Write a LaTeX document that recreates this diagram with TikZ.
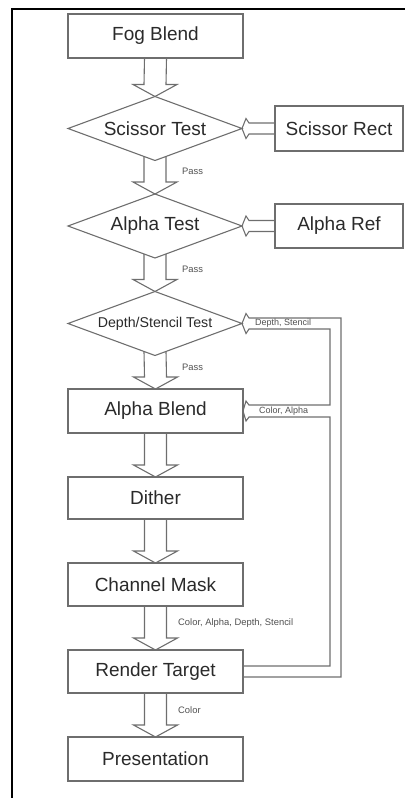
\documentclass[tikz,border=0pt]{standalone}
\usepackage{fontspec}
\setmainfont{Liberation Sans}
\usetikzlibrary{shapes.geometric,calc}
\definecolor{ln}{HTML}{6E6E6E}
\definecolor{tx}{HTML}{2A2A2A}
\definecolor{sm}{HTML}{505050}
\begin{document}
\begin{tikzpicture}[x=1pt,y=-1pt,
  box/.style={draw=ln,line width=1.1pt,rectangle,minimum width=175pt,minimum height=44pt,inner sep=0pt,outer sep=0pt,text=tx,font=\fontsize{19}{22}\selectfont},
  sbox/.style={box,minimum width=128pt},
  dia/.style={draw=ln,line width=1.1pt,diamond,aspect=2.72,minimum width=174pt,minimum height=64pt,inner sep=0pt,outer sep=0pt,text=tx,font=\fontsize{19}{22}\selectfont},
  blk/.style={draw=ln,line width=1.1pt,line join=miter},
  lbl/.style={anchor=west,inner sep=0pt,text=sm,font=\fontsize{9.4}{11}\selectfont}]
\useasboundingbox (0,0) rectangle (405,798);
\draw[line width=2pt] (12,798) -- (12,9) -- (405,9);

\node[box] (fog) at (155.5,36) {Fog Blend};
\node[dia] (sct) at (155,128.5) {Scissor Test};
\node[sbox,minimum height=45pt] (srect) at (339,128.5) {Scissor Rect};
\node[dia] (at) at (155,226) {Alpha Test};
\node[sbox] (aref) at (339,226) {Alpha Ref};
\node[dia,font=\fontsize{14.2}{17}\selectfont] (dst) at (155,323.5) {Depth/Stencil Test};
\node[box] (ab) at (155.5,411) {Alpha Blend};
\node[box,minimum height=42pt] (dith) at (155.5,498) {Dither};
\node[box,minimum height=43pt] (cm) at (155.5,584.5) {Channel Mask};
\node[box,minimum height=43pt] (rt) at (155.5,671.5) {Render Target};
\node[box] (pres) at (155.5,759) {Presentation};

\newcommand\blkdown[3]{\draw[blk] ($(#1.south)+(-11,#3)$) -- ($(#2.north)+(-11,-12)$) -- ($(#2.north)+(-22,-12)$) -- (#2.north) -- ($(#2.north)+(22,-12)$) -- ($(#2.north)+(11,-12)$) -- ($(#1.south)+(11,#3)$);}
\newcommand\blkleft[2]{\draw[blk] ($(#1.west)+(0,-5.5)$) -- ($(#2.east)+(7,-5.5)$) -- ($(#2.east)+(4,-10)$) -- (#2.east) -- ($(#2.east)+(4,10)$) -- ($(#2.east)+(7,5.5)$) -- ($(#1.west)+(0,5.5)$);}

\blkdown{fog}{sct}{0}
\blkdown{sct}{at}{-4}
\blkdown{at}{dst}{-4}
\blkdown{dst}{ab}{-4}
\blkdown{ab}{dith}{0}
\blkdown{dith}{cm}{0}
\blkdown{cm}{rt}{0}
\blkdown{rt}{pres}{0}

\blkleft{srect}{sct}
\blkleft{aref}{at}

\draw[blk] ($(rt.east)+(0,5.5)$) -| ($(dst.east)+(99,-5.5)$) -- ($(dst.east)+(7,-5.5)$) -- ($(dst.east)+(4,-10)$) -- (dst.east) -- ($(dst.east)+(4,10)$) -- ($(dst.east)+(7,5.5)$) -| ($(ab.east)+(87,-6)$) -- ($(ab.east)+(6,-6)$) -- ($(ab.east)+(3,-10)$) -- (ab.east) -- ($(ab.east)+(3,10)$) -- ($(ab.east)+(6,6)$) -| ($(rt.east)+(87,-5.5)$) -- ($(rt.east)+(0,-5.5)$);

\node[lbl] (p1) at (182,171) {Pass};
\node[lbl] (p2) at (182,269) {Pass};
\node[lbl] (p3) at (182,367) {Pass};
\node[lbl,font=\fontsize{9}{10}\selectfont] (ldst) at ($(dst.east)+(13,0)$) {Depth, Stencil};
\node[lbl,font=\fontsize{9}{10}\selectfont] (lab) at ($(ab.east)+(16,0)$) {Color, Alpha};
\node[lbl] (lcm) at (178,623) {Color, Alpha, Depth, Stencil};
\node[lbl] (lrt) at (178,710) {Color};
\end{tikzpicture}
\end{document}
